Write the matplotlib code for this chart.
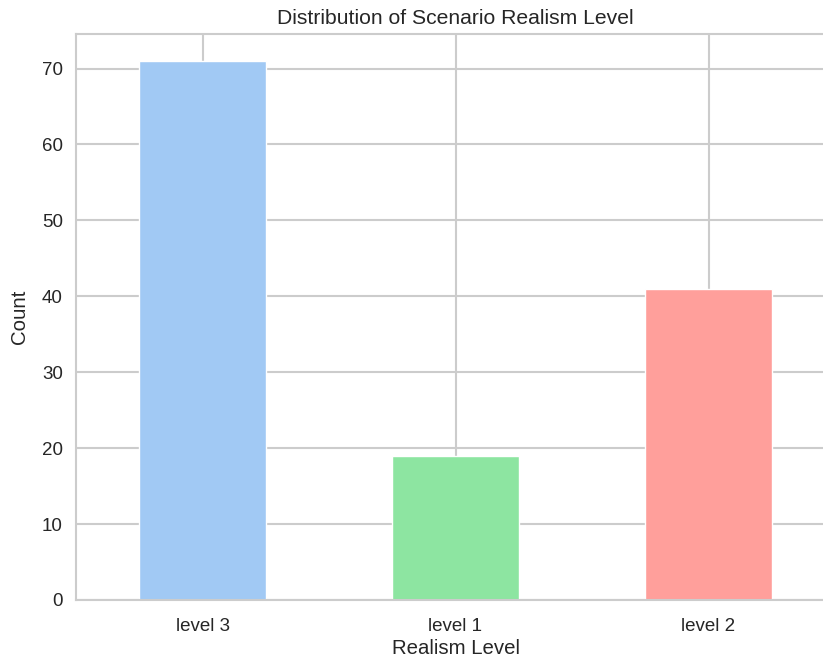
import matplotlib
matplotlib.use('Agg')
import matplotlib.pyplot as plt
import seaborn as sns

levels = ['level 3', 'level 1', 'level 2']
counts = [71, 19, 41]
colors = ['#a1c9f4', '#8de5a1', '#ff9f9b']

sns.set_theme(style='whitegrid')
plt.rcParams['font.family'] = ['Liberation Sans', 'DejaVu Sans']

fig = plt.figure(figsize=(8.23, 6.6), dpi=100)
ax = fig.add_axes([76 / 823, 60 / 660, 759 / 823, 566 / 660])
ax.bar(range(len(levels)), counts, width=0.5, color=colors)
ax.set_xlim(-0.5, len(levels) - 0.5)
ax.set_ylim(0, max(counts) * 1.05)
ax.set_xticks(range(len(levels)))
ax.set_xticklabels(levels)
ax.tick_params(labelsize=13.5)
ax.tick_params(axis='x', pad=7)
ax.set_title('Distribution of Scenario Realism Level', fontsize=15.2, pad=7)
ax.set_xlabel('Realism Level', fontsize=14.7, labelpad=3)
ax.set_ylabel('Count', fontsize=14.7, labelpad=9)
for s in ax.spines.values():
    s.set_color('#cccccc')
    s.set_linewidth(1.5)
ax.grid(color='#cccccc', linewidth=1.5)

fig.savefig('out.png', dpi=100)
